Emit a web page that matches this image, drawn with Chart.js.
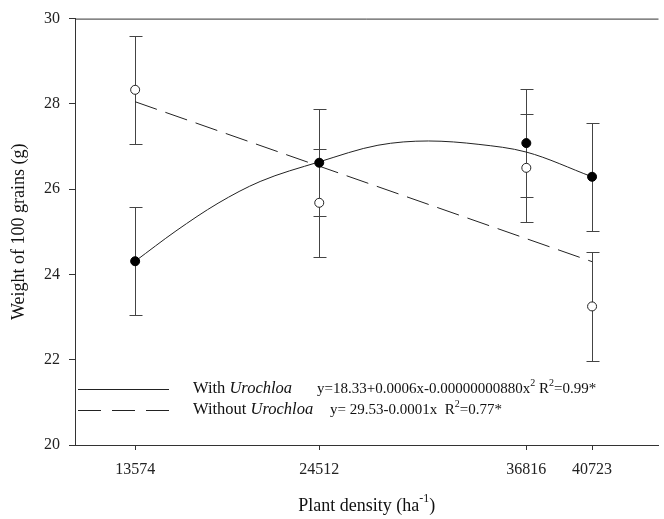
<!DOCTYPE html>
<html>
<head>
<meta charset="utf-8">
<script src="https://cdn.jsdelivr.net/npm/chart.js@4.4.1/dist/chart.umd.min.js"></script>
<style>
  html, body { margin: 0; padding: 0; background: #fff; }
  #wrap { width: 664px; height: 519px; }
</style>
</head>
<body>
<div id="wrap"><canvas id="chart" width="664" height="519"></canvas></div>
<script>
(function() {
    'use strict';

    // ===== Data =====
    const densities = [13574, 24512, 36816, 40723];
    const withUro = [24.31, 26.62, 27.08, 26.29];
    const withUroErr = [1.27, 1.25, 1.26, 1.26];
    const withoutUro = [28.33, 25.68, 26.50, 23.25];
    const withoutUroErr = [1.27, 1.27, 1.27, 1.27];

    // fitted curves
    const fitWithX = [13574, 16000, 18500, 21000, 24512, 28000, 31000, 34000, 36816, 40723];
    const fitWithY = [24.31, 25.02, 25.67, 26.18, 26.64, 27.03, 27.13, 27.05, 26.87, 26.29];
    const fitWithoutX = [13574, 40723];
    const fitWithoutY = [28.05, 24.30];

    const yTicks = [20, 22, 24, 26, 28, 30];

    const SERIF = "'Liberation Serif', 'Times New Roman', serif";
    const INK = '#222';

    const pts = (xs, ys) => xs.map((v, i) => ({ x: v, y: ys[i] }));

    // ===== Error bars =====
    const errorBars = {
        id: 'errorBars',
        beforeDatasetsDraw(chart) {
            const { ctx, scales: { x, y } } = chart;
            ctx.save();
            ctx.strokeStyle = '#444';
            ctx.lineWidth = 1;
            [[withUro, withUroErr], [withoutUro, withoutUroErr]].forEach(([vals, errs]) => {
                vals.forEach((v, i) => {
                    const px = Math.round(x.getPixelForValue(densities[i])) + 0.5;
                    const top = Math.round(y.getPixelForValue(v + errs[i])) + 0.5;
                    const bot = Math.round(y.getPixelForValue(v - errs[i])) + 0.5;
                    ctx.beginPath();
                    ctx.moveTo(px, top); ctx.lineTo(px, bot);
                    ctx.moveTo(px - 6, top); ctx.lineTo(px + 7, top);
                    ctx.moveTo(px - 6, bot); ctx.lineTo(px + 7, bot);
                    ctx.stroke();
                });
            });
            ctx.restore();
        }
    };

    // text with superscripts / italics
    function drawRich(ctx, parts, x, y, size) {
        parts.forEach(p => {
            const fs = p.sup ? Math.round(size * 0.65) : size;
            ctx.font = (p.it ? 'italic ' : '') + fs + 'px ' + SERIF;
            ctx.fillText(p.t, x, p.sup ? y - size * 0.38 : y);
            x += ctx.measureText(p.t).width;
        });
        return x;
    }

    // ===== Frame, legend, x title =====
    const decorations = {
        id: 'decorations',
        afterDraw(chart) {
            const { ctx, chartArea: a } = chart;
            ctx.save();

            // top border
            ctx.strokeStyle = '#333';
            ctx.lineWidth = 1;
            ctx.beginPath();
            ctx.moveTo(a.left, a.top + 0.5);
            ctx.lineTo(a.right, a.top + 0.5);
            ctx.stroke();

            // legend samples
            const row1 = a.bottom - 56, row2 = a.bottom - 35;
            ctx.strokeStyle = INK;
            ctx.beginPath();
            ctx.moveTo(a.left + 3, row1 + 0.5);
            ctx.lineTo(a.left + 94, row1 + 0.5);
            ctx.stroke();
            ctx.setLineDash([23, 11]);
            ctx.beginPath();
            ctx.moveTo(a.left + 3, row2 + 0.5);
            ctx.lineTo(a.left + 94, row2 + 0.5);
            ctx.stroke();
            ctx.setLineDash([]);

            ctx.fillStyle = '#111';
            ctx.textBaseline = 'middle';
            ctx.textAlign = 'left';
            drawRich(ctx, [{ t: 'With ' }, { t: 'Urochloa', it: true }], a.left + 118, row1, 16.5);
            drawRich(ctx, [{ t: 'Without ' }, { t: 'Urochloa', it: true }], a.left + 118, row2, 16.5);
            drawRich(ctx, [
                { t: 'y=18.33+0.0006x-0.00000000880x' }, { t: '2', sup: true },
                { t: ' R' }, { t: '2', sup: true }, { t: '=0.99*' }
            ], a.left + 242, row1, 15);
            drawRich(ctx, [
                { t: 'y= 29.53-0.0001x  R' }, { t: '2', sup: true }, { t: '=0.77*' }
            ], a.left + 255, row2, 15);

            // x axis title
            const parts = [{ t: 'Plant density (ha' }, { t: '-1', sup: true }, { t: ')' }];
            let w = 0;
            parts.forEach(p => {
                ctx.font = (p.sup ? 12 : 18) + 'px ' + SERIF;
                w += ctx.measureText(p.t).width;
            });
            drawRich(ctx, parts, (a.left + a.right) / 2 - w / 2, 506, 18);

            ctx.restore();
        }
    };

    Chart.defaults.font.family = SERIF;
    Chart.defaults.color = INK;

    const ctx = document.getElementById('chart').getContext('2d');
    new Chart(ctx, {
        type: 'scatter',
        data: {
            datasets: [{
                label: 'With Urochloa',
                data: pts(densities, withUro),
                pointRadius: 4.5,
                pointBackgroundColor: '#000',
                pointBorderColor: '#000',
                pointBorderWidth: 1,
                showLine: false
            }, {
                label: 'Without Urochloa',
                data: pts(densities, withoutUro),
                pointRadius: 4.5,
                pointBackgroundColor: '#fff',
                pointBorderColor: '#222',
                pointBorderWidth: 1,
                showLine: false
            }, {
                label: 'With fit',
                data: pts(fitWithX, fitWithY),
                showLine: true,
                pointRadius: 0,
                borderColor: INK,
                borderWidth: 1,
                cubicInterpolationMode: 'monotone'
            }, {
                label: 'Without fit',
                data: pts(fitWithoutX, fitWithoutY),
                showLine: true,
                pointRadius: 0,
                borderColor: INK,
                borderWidth: 1,
                borderDash: [23, 9]
            }]
        },
        options: {
            responsive: false,
            animation: false,
            layout: { padding: { top: 17, right: 0, left: 0, bottom: 0 } },
            plugins: {
                legend: { display: false },
                tooltip: { enabled: false }
            },
            scales: {
                x: {
                    type: 'linear',
                    min: 10000,
                    max: 44670,
                    afterBuildTicks: scale => { scale.ticks = densities.map(v => ({ value: v })); },
                    afterFit: scale => { scale.height = 74; },
                    ticks: {
                        autoSkip: false,
                        maxRotation: 0,
                        padding: 10,
                        font: { size: 16 },
                        callback: v => String(v)
                    },
                    grid: { drawOnChartArea: false, drawTicks: true, tickLength: 5, color: '#333' },
                    border: { display: true, color: '#333' }
                },
                y: {
                    min: 20,
                    max: 30,
                    afterBuildTicks: scale => { scale.ticks = yTicks.map(v => ({ value: v })); },
                    afterFit: scale => { scale.width = 75; },
                    ticks: {
                        padding: 9,
                        font: { size: 16 },
                        callback: v => String(v)
                    },
                    grid: { drawOnChartArea: false, drawTicks: true, tickLength: 6, color: '#333' },
                    border: { display: true, color: '#333' },
                    title: {
                        display: true,
                        text: 'Weight of 100 grains (g)',
                        font: { size: 18 },
                        color: '#111',
                        padding: { top: 8, bottom: 0 }
                    }
                }
            }
        },
        plugins: [errorBars, decorations]
    });

})();
</script>
</body>
</html>
